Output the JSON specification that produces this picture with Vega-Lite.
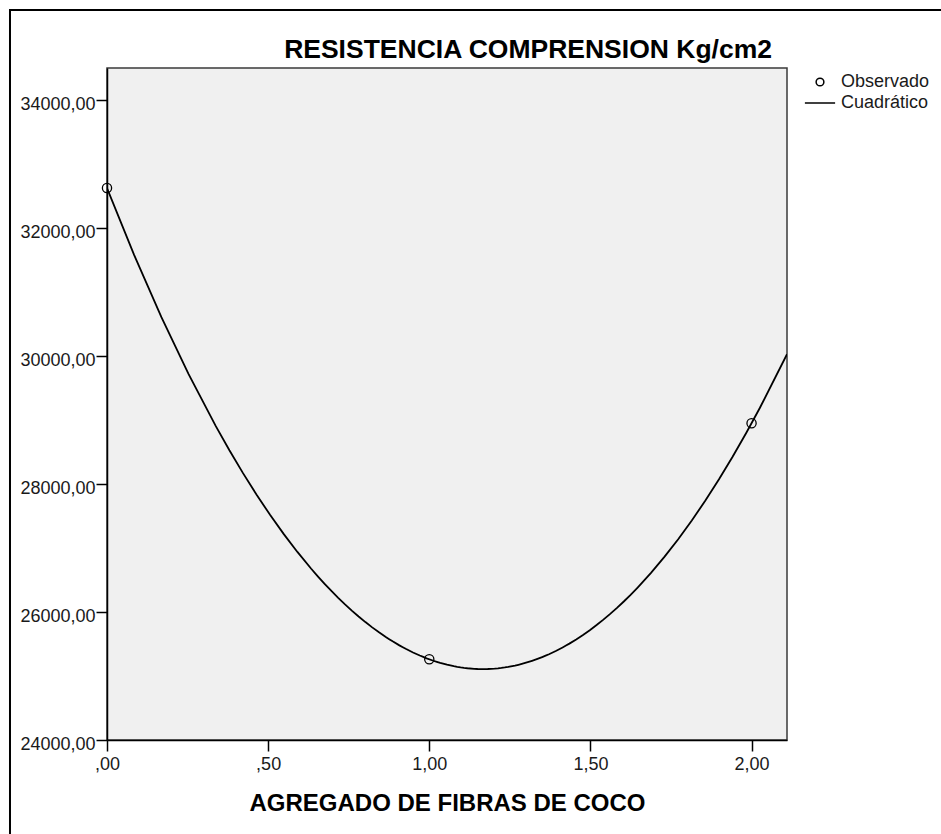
{
  "$schema": "https://vega.github.io/schema/vega-lite/v6.json",
  "width": 680,
  "height": 672,
  "autosize": {"type": "none"},
  "padding": {"left": 107, "top": 68, "right": 154, "bottom": 94},
  "background": "white",
  "config": {
    "font": "Liberation Sans",
    "view": {"fill": "#f0f0f0", "stroke": "#3a3a3a", "strokeWidth": 1.5}
  },
  "title": {
    "text": "RESISTENCIA COMPRENSION Kg/cm2",
    "anchor": "end",
    "frame": "group",
    "dx": -15,
    "offset": 0,
    "dy": 75,
    "baseline": "alphabetic",
    "fontSize": 26.5,
    "fontWeight": "bold",
    "font": "Liberation Sans",
    "color": "#000000"
  },
  "data": {
    "values": [
      {"x": 0, "y": 32625, "serie": "Observado"},
      {"x": 1, "y": 25261, "serie": "Observado"},
      {"x": 2, "y": 28948, "serie": "Observado"}
    ]
  },
  "layer": [
    {
      "transform": [
        {"regression": "y", "on": "x", "method": "poly", "order": 2, "extent": [0, 2.11]}
      ],
      "mark": {"type": "line", "color": "#000000", "strokeWidth": 1.8, "clip": true},
      "encoding": {
        "x": {
          "field": "x",
          "type": "quantitative",
          "title": "AGREGADO DE FIBRAS DE COCO",
          "scale": {"domain": [0, 2.11], "nice": false, "zero": false},
          "axis": {
            "values": [0, 0.5, 1, 1.5, 2],
            "labelExpr": "datum.value < 1 ? replace(format(datum.value, '.2f'), '0.', ',') : replace(format(datum.value, '.2f'), '.', ',')",
            "grid": false,
            "tickSize": 11,
            "tickWidth": 1.5,
            "tickColor": "#000000",
            "domainColor": "#000000",
            "domainWidth": 1.5,
            "labelFontSize": 18,
            "labelColor": "#1a1a1a",
            "labelPadding": 4,
            "labelFlush": false,
            "labelOverlap": false,
            "labelBound": false,
            "titleFontSize": 24,
            "titleFontWeight": "bold",
            "titleColor": "#000000",
            "titleY": 70,
            "titleBaseline": "alphabetic",
            "titleAnchor": "middle"
          }
        },
        "y": {
          "field": "y",
          "type": "quantitative",
          "title": null,
          "scale": {"domain": [24000, 34500], "nice": false, "zero": false},
          "axis": {
            "values": [24000, 26000, 28000, 30000, 32000, 34000],
            "labelExpr": "replace(format(datum.value, '.2f'), '.', ',')",
            "grid": false,
            "tickSize": 11,
            "tickWidth": 1.5,
            "tickColor": "#000000",
            "domainColor": "#000000",
            "domainWidth": 1.5,
            "labelFontSize": 18,
            "labelColor": "#1a1a1a",
            "labelPadding": 1,
            "labelOffset": 4,
            "labelOverlap": false,
            "labelBound": false
          }
        }
      }
    },
    {
      "mark": {"type": "point", "filled": false, "color": "#000000", "size": 85, "strokeWidth": 1.3, "opacity": 1},
      "encoding": {
        "x": {"field": "x", "type": "quantitative", "title": "AGREGADO DE FIBRAS DE COCO"},
        "y": {"field": "y", "type": "quantitative", "title": null},
        "shape": {
          "field": "serie",
          "type": "nominal",
          "scale": {"domain": ["Observado", "Cuadrático"], "range": ["circle", "M-3.9,0H3.9"]},
          "legend": {
            "title": null,
            "orient": "none",
            "legendX": 704,
            "legendY": 5,
            "padding": 0,
            "labelFontSize": 18,
            "labelColor": "#1a1a1a",
            "labelFont": "Liberation Sans",
            "symbolSize": 60,
            "symbolStrokeColor": "#000000",
            "symbolStrokeWidth": 1.5,
            "symbolFillColor": "transparent",
            "labelOffset": 12,
            "rowPadding": 3
          }
        }
      }
    },
    {
      "data": {"values": [{"frame": "outer"}]},
      "mark": {"type": "rect", "fillOpacity": 0, "stroke": "#000000", "strokeWidth": 2, "clip": false},
      "encoding": {
        "x": {"datum": -0.301, "type": "quantitative", "title": "AGREGADO DE FIBRAS DE COCO"},
        "x2": {"datum": 3},
        "y": {"datum": 35406, "type": "quantitative", "title": null},
        "y2": {"datum": 20000}
      }
    }
  ]
}
